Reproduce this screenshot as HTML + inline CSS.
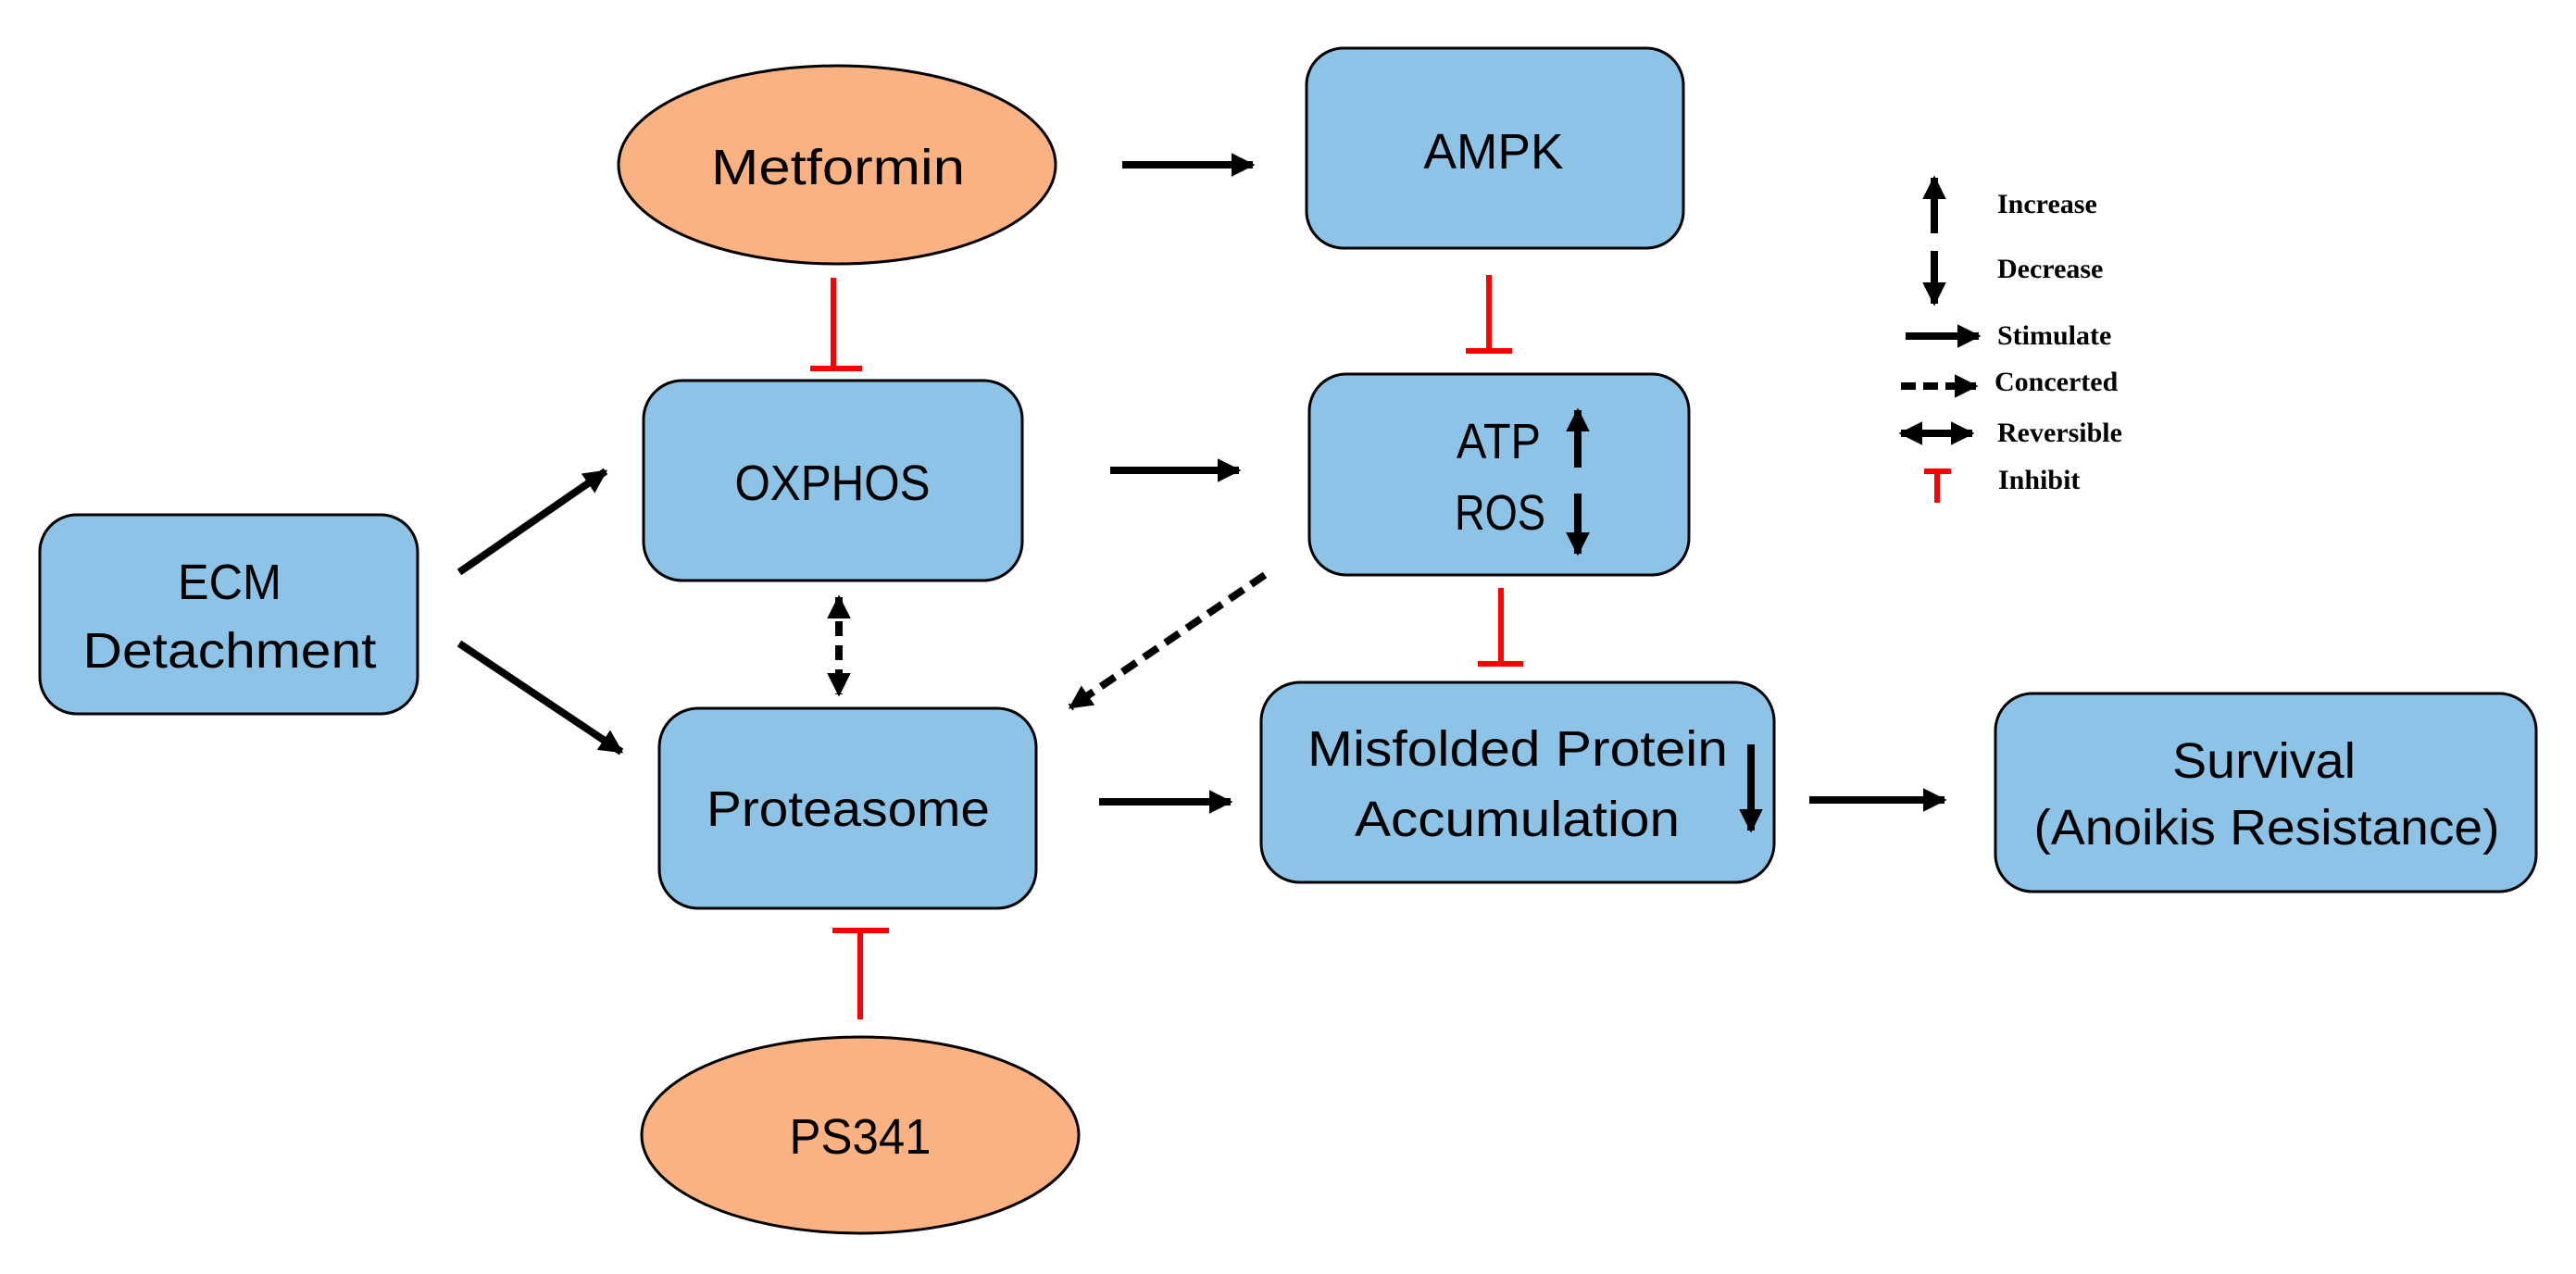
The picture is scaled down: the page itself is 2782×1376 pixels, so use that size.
<!DOCTYPE html>
<html><head><meta charset="utf-8"><style>
html,body{margin:0;padding:0;background:#fff;}
svg{display:block;}
.t{font-family:"Liberation Sans",sans-serif;font-size:54px;fill:#000;}
.l{font-family:"Liberation Serif",serif;font-size:30px;font-weight:bold;fill:#000;}
.box{fill:#8DC3E6;stroke:#000;stroke-width:3;}
.ell{fill:#FBB283;stroke:#000;stroke-width:3;}
.a{stroke:#000;stroke-width:8;fill:none;}
.r{stroke:#FF0000;stroke-width:6;fill:none;}
</style></head><body>
<svg width="2782" height="1376" viewBox="0 0 2782 1376" xmlns="http://www.w3.org/2000/svg">
<defs>
<marker id="ah" viewBox="0 0 10 10" refX="9" refY="5" markerWidth="3.2" markerHeight="3.2" orient="auto-start-reverse" markerUnits="strokeWidth">
<path d="M0,0 L10,5 L0,10 z" fill="#000"/></marker>
</defs>

<ellipse class="ell" cx="904" cy="178" rx="236" ry="107"/>
<text class="t" x="905" y="199" text-anchor="middle" textLength="274" lengthAdjust="spacingAndGlyphs">Metformin</text>

<rect class="box" x="1411" y="52" width="407" height="216" rx="40"/>
<text class="t" x="1613" y="182" text-anchor="middle" textLength="151" lengthAdjust="spacingAndGlyphs">AMPK</text>

<rect class="box" x="695" y="411" width="409" height="216" rx="42"/>
<text class="t" x="899" y="540" text-anchor="middle" textLength="211" lengthAdjust="spacingAndGlyphs">OXPHOS</text>

<rect class="box" x="1414" y="404" width="410" height="217" rx="40"/>
<text class="t" x="1573" y="495" textLength="91" lengthAdjust="spacingAndGlyphs">ATP</text>
<text class="t" x="1571" y="572" textLength="98" lengthAdjust="spacingAndGlyphs">ROS</text>
<line class="a" x1="1704" y1="505" x2="1704" y2="443" marker-end="url(#ah)"/>
<line class="a" x1="1704" y1="533" x2="1704" y2="598" marker-end="url(#ah)"/>

<rect class="box" x="43" y="556" width="408" height="215" rx="40"/>
<text class="t" x="248" y="647" text-anchor="middle" textLength="112" lengthAdjust="spacingAndGlyphs">ECM</text>
<text class="t" x="248" y="721" text-anchor="middle" textLength="317" lengthAdjust="spacingAndGlyphs">Detachment</text>

<rect class="box" x="712" y="765" width="407" height="216" rx="42"/>
<text class="t" x="916" y="892" text-anchor="middle" textLength="306" lengthAdjust="spacingAndGlyphs">Proteasome</text>

<rect class="box" x="1362" y="737" width="554" height="216" rx="42"/>
<text class="t" x="1412" y="827" textLength="454" lengthAdjust="spacingAndGlyphs">Misfolded Protein</text>
<text class="t" x="1463" y="903" textLength="351" lengthAdjust="spacingAndGlyphs">Accumulation</text>
<line class="a" x1="1891" y1="804" x2="1891" y2="897" marker-end="url(#ah)"/>

<rect class="box" x="2155" y="749" width="584" height="214" rx="40"/>
<text class="t" x="2445" y="840" text-anchor="middle" textLength="198" lengthAdjust="spacingAndGlyphs">Survival</text>
<text class="t" x="2448" y="912" text-anchor="middle" textLength="503" lengthAdjust="spacingAndGlyphs">(Anoikis Resistance)</text>

<ellipse class="ell" cx="929" cy="1226" rx="236" ry="106"/>
<text class="t" x="929" y="1246" text-anchor="middle" textLength="153" lengthAdjust="spacingAndGlyphs">PS341</text>

<line class="a" x1="1212" y1="178" x2="1353" y2="178" marker-end="url(#ah)"/>
<line class="a" x1="1199" y1="508" x2="1338" y2="508" marker-end="url(#ah)"/>
<line class="a" x1="1187" y1="866" x2="1329" y2="866" marker-end="url(#ah)"/>
<line class="a" x1="1954" y1="864" x2="2100" y2="864" marker-end="url(#ah)"/>
<line class="a" x1="496" y1="618" x2="654" y2="509" marker-end="url(#ah)"/>
<line class="a" x1="496" y1="695" x2="671" y2="812" marker-end="url(#ah)"/>
<line class="a" x1="906" y1="645" x2="906" y2="750" stroke-dasharray="16,10" stroke-width="6" marker-start="url(#ah)" marker-end="url(#ah)"/>
<line class="a" x1="1366" y1="621" x2="1156" y2="764" stroke-dasharray="18,10" stroke-width="7" marker-end="url(#ah)"/>

<line class="r" x1="900" y1="300" x2="900" y2="398"/>
<line class="r" x1="875" y1="398" x2="931" y2="398" stroke-width="7"/>
<line class="r" x1="1608" y1="297" x2="1608" y2="379"/>
<line class="r" x1="1583" y1="379" x2="1633" y2="379" stroke-width="7"/>
<line class="r" x1="1621" y1="635" x2="1621" y2="717"/>
<line class="r" x1="1596" y1="717" x2="1645" y2="717" stroke-width="7"/>
<line class="r" x1="929" y1="1005" x2="929" y2="1101"/>
<line class="r" x1="899" y1="1005" x2="960" y2="1005" stroke-width="7"/>

<line class="a" x1="2089" y1="252" x2="2089" y2="192" stroke-width="7" marker-end="url(#ah)"/>
<line class="a" x1="2089" y1="271" x2="2089" y2="328" stroke-width="7" marker-end="url(#ah)"/>
<line class="a" x1="2058" y1="363" x2="2137" y2="363" stroke-width="7" marker-end="url(#ah)"/>
<line class="a" x1="2053" y1="417" x2="2134" y2="417" stroke-width="7" stroke-dasharray="16,8" marker-end="url(#ah)"/>
<line class="a" x1="2053" y1="468" x2="2130" y2="468" stroke-width="7" marker-start="url(#ah)" marker-end="url(#ah)"/>
<line class="r" x1="2092" y1="508" x2="2092" y2="543" stroke-width="8"/>
<line class="r" x1="2078" y1="509" x2="2107" y2="509" stroke-width="7"/>
<text class="l" x="2157" y="230">Increase</text>
<text class="l" x="2157" y="300">Decrease</text>
<text class="l" x="2157" y="372">Stimulate</text>
<text class="l" x="2154" y="422">Concerted</text>
<text class="l" x="2157" y="477">Reversible</text>
<text class="l" x="2158" y="528">Inhibit</text>
</svg>
</body></html>
